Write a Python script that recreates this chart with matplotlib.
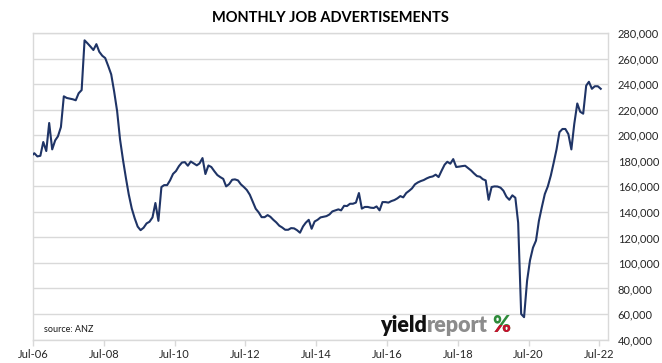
import matplotlib
matplotlib.use("Agg")
import matplotlib.pyplot as plt
import matplotlib.dates as mdates
from matplotlib.patches import Rectangle
import pandas as pd

# Monthly ANZ job advertisements (thousands), Jun-06 .. Jul-22
yr2006 = [184, 186, 183.5, 184, 194.8, 187.7, 209.7]
yr2007 = [189, 196.1, 199.2, 206.5, 230.6, 229.3, 228.8, 228.3, 227.5, 233, 235.5, 274.5]
yr2008 = [272.1, 269.5, 266.9, 271.5, 265.5, 262.4, 260.6, 254.4, 247.8, 234.5, 219, 196.9]
yr2009 = [180.6, 166, 153.7, 142.7, 135.1, 128.5, 125.7, 127.6, 131, 132.3, 135.7, 147]
yr2010 = [133, 159.5, 161, 161, 164.7, 169.8, 172, 175.9, 178.7, 179, 176.2, 179.5]
yr2011 = [178, 176.5, 178, 182.2, 169.7, 176.4, 175.2, 171.9, 168.9, 167.3, 165.9, 160]
yr2012 = [161.8, 165.2, 165.5, 164.7, 161.6, 159.5, 157.2, 153.5, 148, 142.5, 139.6, 135.9]
yr2013 = [135.9, 137.5, 136.2, 133.8, 131.8, 129.2, 127.8, 126, 126, 127.3, 127.1, 125.7]
yr2014 = [123.7, 128.6, 131.5, 133.8, 126.8, 132.5, 133.8, 135.7, 136.2, 136.7, 138, 140.4]
yr2015 = [141.2, 142, 141.2, 144.8, 144.6, 146.4, 146.4, 147.3, 154.8, 142.6, 143.9, 143.9]
yr2016 = [143.3, 143.1, 144.3, 141.2, 147.7, 147.7, 147.3, 148.5, 149.3, 150.6, 152.4, 151.4]
yr2017 = [154.8, 156.6, 158.4, 161.6, 163.1, 164.2, 165, 166.3, 167.3, 167.8, 169.2, 167.3]
yr2018 = [172.3, 177, 179.3, 177.8, 181.4, 175.2, 175.5, 175.9, 176.2, 174.4, 172.5, 170.2]
yr2019 = [168.1, 167.6, 165.7, 164.7, 149.5, 159.5, 160, 159.9, 159, 156.6, 151.9, 149.5]
yr2020 = [153, 151.1, 131.5, 60, 57.5, 86, 102, 112, 117.5, 133, 144, 154]
yr2021 = [160, 168.5, 178, 189, 202.5, 205, 205, 201, 189, 209, 225, 218.5]
yr2022 = [217, 239, 242, 236.5, 238.5, 238.5, 236.5]

job_ads_k = (yr2006 + yr2007 + yr2008 + yr2009 + yr2010 + yr2011 + yr2012 + yr2013
             + yr2014 + yr2015 + yr2016 + yr2017 + yr2018 + yr2019 + yr2020 + yr2021 + yr2022)
job_ads = [v * 1000 for v in job_ads_k]
dates = pd.date_range("2006-06-01", periods=len(job_ads), freq="MS") + pd.Timedelta(days=14)

tick_dates = pd.to_datetime(["2006-07-01", "2008-07-01", "2010-07-01", "2012-07-01", "2014-07-01",
                             "2016-07-01", "2018-07-01", "2020-07-01", "2022-07-01"])
y_ticks = [40000, 60000, 80000, 100000, 120000, 140000, 160000, 180000,
           200000, 220000, 240000, 260000, 280000]

W, H = 662, 363
fig = plt.figure(figsize=(W / 100, H / 100), dpi=100)
fig.patch.set_facecolor("white")
ax = fig.add_axes([33 / W, 1 - 339.5 / H, (608 - 33) / W, (339.5 - 33.3) / H])

grid_c = "#D9D9D9"
ax.plot(dates, job_ads, color="#1F3466", lw=1.5, solid_joinstyle="round", zorder=3)

ax.set_xlim(pd.Timestamp("2006-07-01"), pd.Timestamp("2022-09-28"))
ax.set_ylim(40000, 280000)
ax.set_xticks(tick_dates)
ax.xaxis.set_major_formatter(mdates.DateFormatter("%b-%y"))
ax.set_yticks(y_ticks)
ax.set_yticklabels([f"{v:,}" for v in y_ticks])
ax.yaxis.tick_right()
ax.grid(axis="y", color=grid_c, lw=1.0, zorder=0)
for s in ax.spines.values():
    s.set_color(grid_c)
    s.set_linewidth(1.0)
ax.tick_params(axis="x", direction="out", length=4, color=grid_c, width=1, pad=3,
               labelsize=8, labelcolor="#262626")
ax.tick_params(axis="y", length=0, pad=7, labelsize=8, labelcolor="#262626")
for lab in ax.get_xticklabels() + ax.get_yticklabels():
    lab.set_fontfamily(["Lato", "DejaVu Sans"])

fig.text(0.4985, 1 - 18 / H, "MONTHLY JOB ADVERTISEMENTS", ha="center", va="center",
         fontsize=10.5, fontweight="bold", family=["Lato", "DejaVu Sans"], color="black")

fig.text(44 / W, 1 - 329 / H, "source: ANZ", ha="left", va="center", fontsize=6.5,
         family=["Lato", "DejaVu Sans"], color="#1a1a1a")

# yieldreport logo
fs_logo = 15.5
t1 = fig.text(380 / W, 1 - 332 / H, "yield", ha="left", va="baseline", fontsize=fs_logo,
              fontweight="heavy", family=["Lato", "DejaVu Sans"], color="#111111")
fig.canvas.draw()
r = fig.canvas.get_renderer()
bb = t1.get_window_extent(r)
t2 = fig.text(bb.x1 / W, 1 - 332 / H, "report", ha="left", va="baseline", fontsize=fs_logo,
              fontweight="heavy", family=["Lato", "DejaVu Sans"], color="#8C8C8C")
bb2 = t2.get_window_extent(r)
px = bb2.x1 / W + 4 / W
pg = fig.text(px, 1 - 332 / H, "%", ha="left", va="baseline", fontsize=fs_logo,
              fontweight="heavy", family=["Lato", "DejaVu Sans"], color="#2E8B3A")
pr = fig.text(px, 1 - 332 / H, "%", ha="left", va="baseline", fontsize=fs_logo,
              fontweight="heavy", family=["Lato", "DejaVu Sans"], color="#C8102E")
clip = Rectangle((0, 0), W, H - 325, transform=None)
pr.set_clip_path(clip)
pr.set_clip_on(True)

fig.savefig("out.png", dpi=100, facecolor="white")
